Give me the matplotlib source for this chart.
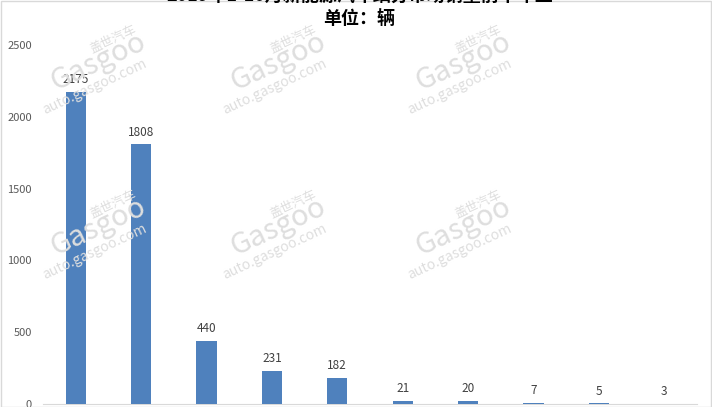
import matplotlib.pyplot as plt

plt.rcParams['font.family'] = ['Noto Sans CJK SC', 'DejaVu Sans']

# data (category names are cut off in the reference)
values = [2175, 1808, 440, 231, 182, 21, 20, 7, 5, 3]
yticks = [0, 500, 1000, 1500, 2000, 2500]
title = "2019年1-10月新能源汽车细分市场销量前十车型"
subtitle = "单位：辆"

bar_color = "#4f81bd"
text_color = "#595959"

fig = plt.figure(figsize=(7.12, 4.07), dpi=100)
ax = fig.add_axes([43 / 712, 3 / 407, 654 / 712, 359 / 407])

x = list(range(len(values)))
ax.bar(x, values, width=0.31, color=bar_color, zorder=3)
for xi, v in zip(x, values):
    ax.text(xi, v + 40, str(v), ha="center", va="bottom", fontsize=8.5,
            color="#404040", zorder=4)

ax.set_xlim(-0.5, len(values) - 0.5)
ax.set_ylim(0, 2500)
ax.set_yticks(yticks)
ax.set_yticklabels([str(t) for t in yticks], fontsize=8, color=text_color)
ax.set_xticks([])
ax.tick_params(axis="y", length=0, pad=8)
for side in ["top", "right", "left"]:
    ax.spines[side].set_visible(False)
ax.spines["bottom"].set_color("#d9d9d9")
ax.patch.set_alpha(0)

# title block, first line is clipped by the top edge like the source
fig.text(0.505, 1 + 4 / 407, title, ha="center", va="center", fontsize=13,
         fontweight="bold", color="black")
fig.text(0.505, 1 - 19 / 407, subtitle, ha="center", va="center", fontsize=13,
         fontweight="bold", color="black")

# faint watermarks
wm = "#dedede"
for wx in [95, 275, 460]:
    for wy in [68, 233]:
        fx, fy = wx / 712, 1 - wy / 407
        fig.text(fx + 0.025, fy + 0.07, "盖世汽车", rotation=25, fontsize=9,
                 color=wm, ha="center", va="center", zorder=0)
        fig.text(fx + 0.005, fy + 0.015, "Gasgoo", rotation=25, fontsize=21,
                 color=wm, ha="center", va="center", zorder=0, style="italic")
        fig.text(fx, fy - 0.045, "auto.gasgoo.com", rotation=25, fontsize=10,
                 color=wm, ha="center", va="center", zorder=0)

# light frame around the figure
fig.patches.append(plt.Rectangle((0.001, 0.001), 0.997, 0.997, fill=False,
                                 edgecolor="#d9d9d9", linewidth=1,
                                 transform=fig.transFigure, figure=fig))

fig.savefig("out.png", dpi=100)
